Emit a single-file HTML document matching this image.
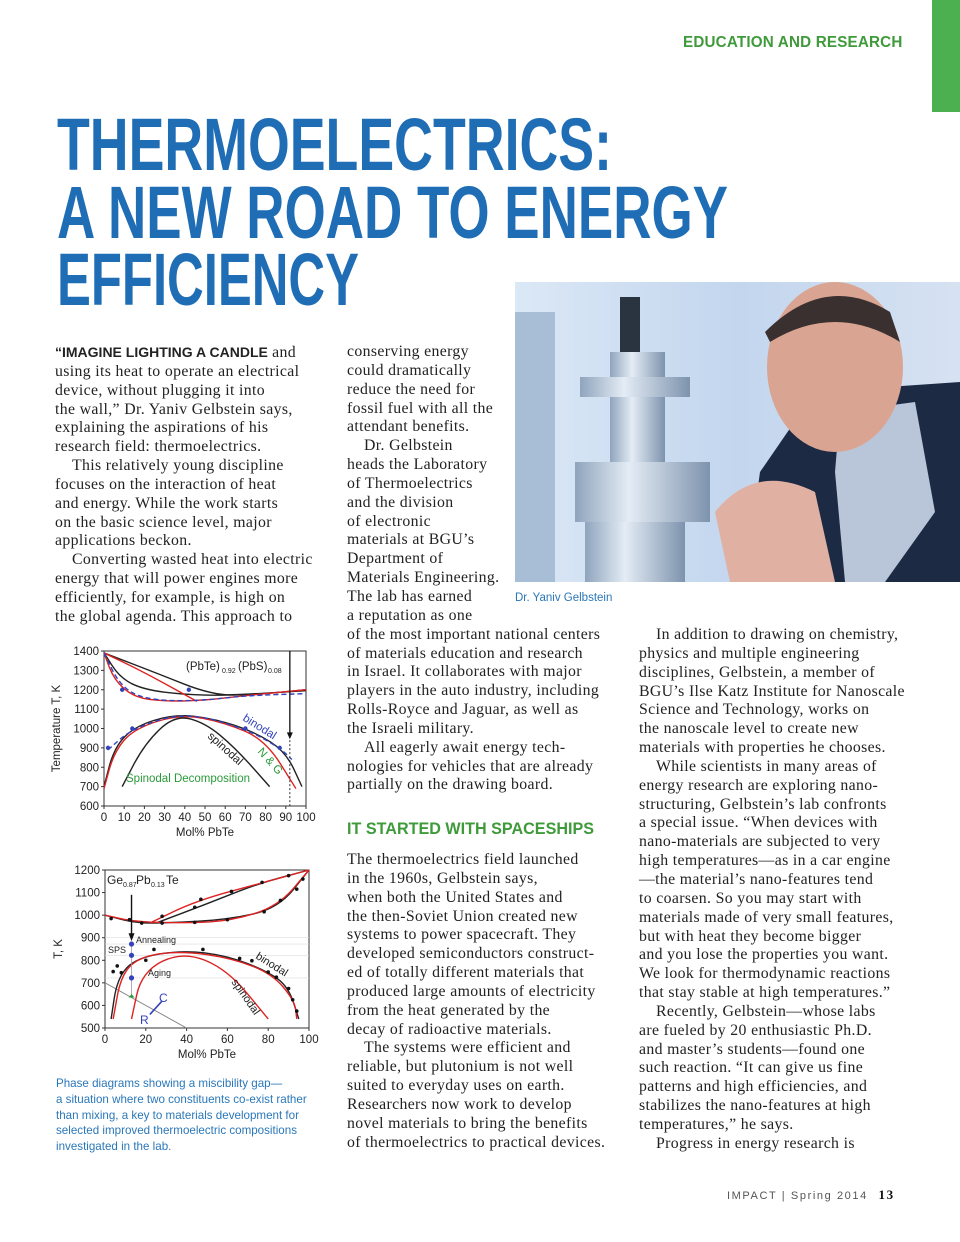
<!DOCTYPE html>
<html><head><meta charset="utf-8">
<style>
body{margin:0;background:#fff;}
#page{position:relative;width:960px;height:1242px;overflow:hidden;background:#fff;font-family:"Liberation Serif",serif;color:#222;}
.col{position:absolute;font-size:15.8px;line-height:18.85px;letter-spacing:0.35px;}
.col div{white-space:nowrap;}
.ind{padding-left:17px;}
.abs{position:absolute;}
.cap{font-family:"Liberation Sans",sans-serif;color:#2a77b8;font-size:11.6px;line-height:15.8px;}
</style></head><body>
<div id="page">
<div class="abs" style="left:932px;top:0;width:28px;height:112px;background:#4caf50;"></div>
<div class="abs" style="left:683px;top:34px;font-family:'Liberation Sans',sans-serif;font-weight:bold;color:#3f9a3a;font-size:16px;letter-spacing:0.2px;transform:scaleX(0.95);transform-origin:left;">EDUCATION AND RESEARCH</div>

<svg class="abs" style="left:0;top:0" width="960" height="320">
<g font-family="Liberation Sans, sans-serif" fill="#1f6db5" font-size="74" font-weight="bold">
<text x="57" y="170" textLength="555" lengthAdjust="spacingAndGlyphs">THERMOELECTRICS:</text>
<text x="57" y="238" textLength="671" lengthAdjust="spacingAndGlyphs">A NEW ROAD TO ENERGY</text>
<text x="57" y="305" textLength="302" lengthAdjust="spacingAndGlyphs">EFFICIENCY</text>
</g></svg>

<svg class="abs" style="left:515px;top:282px" width="445" height="300">
<defs><linearGradient id="bg" x1="0" x2="1"><stop offset="0" stop-color="#dbe8f6"/><stop offset="0.5" stop-color="#c3d6ee"/><stop offset="1" stop-color="#d6e2f2"/></linearGradient>
<linearGradient id="st" x1="0" x2="1"><stop offset="0" stop-color="#8fa4bd"/><stop offset="0.4" stop-color="#e4ecf5"/><stop offset="1" stop-color="#7d93ad"/></linearGradient></defs>
<rect width="445" height="300" fill="url(#bg)"/>
<rect x="0" y="30" width="40" height="270" fill="#a8bdd6"/>
<rect x="60" y="180" width="135" height="60" fill="url(#st)"/>
<rect x="70" y="240" width="100" height="60" fill="url(#st)"/>
<rect x="95" y="70" width="55" height="110" fill="url(#st)"/>
<rect x="65" y="95" width="110" height="20" fill="url(#st)"/>
<rect x="105" y="15" width="20" height="55" fill="#2a3340"/>
<path d="M300 110 L445 100 L445 300 L230 300 L245 190 Z" fill="#1d2a44"/>
<path d="M325 130 L400 120 L420 230 L370 300 L330 300 L320 190 Z" fill="#b9c6d9"/>
<ellipse cx="320" cy="85" rx="68" ry="85" fill="#d9a592"/>
<path d="M250 50 Q310 -10 375 30 L385 60 Q320 20 255 60 Z" fill="#3a3030"/>
<path d="M200 230 Q240 180 300 210 L320 300 L215 300 Z" fill="#e0b0a3"/>
</svg>
<div class="abs cap" style="left:515px;top:591px;font-size:11.5px;">Dr. Yaniv Gelbstein</div>

<div class="col" style="left:55px;top:343px;">
<div><b style="font-family:'Liberation Sans',sans-serif;font-size:14px;letter-spacing:0;">“IMAGINE LIGHTING A CANDLE</b> and</div>
<div>using its heat to operate an electrical</div>
<div>device, without plugging it into</div>
<div>the wall,” Dr. Yaniv Gelbstein says,</div>
<div>explaining the aspirations of his</div>
<div>research field: thermoelectrics.</div>
<div class="ind">This relatively young discipline</div>
<div>focuses on the interaction of heat</div>
<div>and energy. While the work starts</div>
<div>on the basic science level, major</div>
<div>applications beckon.</div>
<div class="ind">Converting wasted heat into electric</div>
<div>energy that will power engines more</div>
<div>efficiently, for example, is high on</div>
<div>the global agenda. This approach to</div>
</div>

<div class="col" style="left:347px;top:343px;">
<div>conserving energy</div><div>could dramatically</div><div>reduce the need for</div><div>fossil fuel with all the</div><div>attendant benefits.</div>
<div class="ind">Dr. Gelbstein</div><div>heads the Laboratory</div><div>of Thermoelectrics</div><div>and the division</div><div>of electronic</div><div>materials at BGU’s</div><div>Department of</div><div>Materials Engineering.</div><div>The lab has earned</div><div>a reputation as one</div>
<div>of the most important national centers</div><div>of materials education and research</div><div>in Israel. It collaborates with major</div><div>players in the auto industry, including</div><div>Rolls-Royce and Jaguar, as well as</div><div>the Israeli military.</div>
<div class="ind">All eagerly await energy tech-</div><div>nologies for vehicles that are already</div><div>partially on the drawing board.</div>
</div>
<div class="abs" style="left:347px;top:819px;font-family:'Liberation Sans',sans-serif;font-weight:bold;color:#3f9a3a;font-size:17px;transform:scaleX(0.95);transform-origin:left;">IT STARTED WITH SPACESHIPS</div>
<div class="col" style="left:347px;top:851px;">
<div>The thermoelectrics field launched</div><div>in the 1960s, Gelbstein says,</div><div>when both the United States and</div><div>the then-Soviet Union created new</div><div>systems to power spacecraft. They</div><div>developed semiconductors construct-</div><div>ed of totally different materials that</div><div>produced large amounts of electricity</div><div>from the heat generated by the</div><div>decay of radioactive materials.</div>
<div class="ind">The systems were efficient and</div><div>reliable, but plutonium is not well</div><div>suited to everyday uses on earth.</div><div>Researchers now work to develop</div><div>novel materials to bring the benefits</div><div>of thermoelectrics to practical devices.</div>
</div>

<div class="col" style="left:639px;top:626px;">
<div class="ind">In addition to drawing on chemistry,</div><div>physics and multiple engineering</div><div>disciplines, Gelbstein, a member of</div><div>BGU’s Ilse Katz Institute for Nanoscale</div><div>Science and Technology, works on</div><div>the nanoscale level to create new</div><div>materials with properties he chooses.</div>
<div class="ind">While scientists in many areas of</div><div>energy research are exploring nano-</div><div>structuring, Gelbstein’s lab confronts</div><div>a special issue. “When devices with</div><div>nano-materials are subjected to very</div><div>high temperatures—as in a car engine</div><div>—the material’s nano-features tend</div><div>to coarsen. So you may start with</div><div>materials made of very small features,</div><div>but with heat they become bigger</div><div>and you lose the properties you want.</div><div>We look for thermodynamic reactions</div><div>that stay stable at high temperatures.”</div>
<div class="ind">Recently, Gelbstein—whose labs</div><div>are fueled by 20 enthusiastic Ph.D.</div><div>and master’s students—found one</div><div>such reaction. “It can give us fine</div><div>patterns and high efficiencies, and</div><div>stabilizes the nano-features at high</div><div>temperatures,” he says.</div>
<div class="ind">Progress in energy research is</div>
</div>

<svg id="charts" class="abs" style="left:0;top:0" width="340" height="1070" font-family="Liberation Sans, sans-serif"></svg>

<div class="abs cap" style="left:56px;top:1076px;">
<div>Phase diagrams showing a miscibility gap—</div><div>a situation where two constituents co-exist rather</div><div>than mixing, a key to materials development for</div><div>selected improved thermoelectric compositions</div><div>investigated in the lab.</div></div>

<div class="abs" style="left:727px;top:1187px;font-family:'Liberation Sans',sans-serif;font-size:11px;letter-spacing:1.6px;color:#555;">IMPACT | Spring 2014 <b style="color:#111;font-size:13px;margin-left:6px;font-family:'Liberation Serif',serif;">13</b></div>
</div>

<script>
// Chart 1 data (Mol% PbTe, T K)
const c1xTicks=[0,10,20,30,40,50,60,70,80,90,100];
const c1yTicks=[600,700,800,900,1000,1100,1200,1300,1400];
const c1BlackUpper=[[0,1390],[25,1290],[54,1170],[75,1175],[100,1200]];
const c1BlackLower=[[0,1390],[8,1260],[20,1200],[40,1175],[60,1170],[100,1195]];
const c1RedUpper=[[0,1390],[20,1290],[46,1140]];
const c1RedLower=[[0,1390],[5,1250],[15,1160],[30,1140],[50,1145],[70,1170],[100,1200]];
const c1BlueDash=[[0,1390],[8,1220],[20,1150],[45,1140],[70,1170],[100,1180]];
const c1BlackBinodal=[[0,700],[5,900],[15,1010],[35,1075],[55,1050],[75,980],[90,880],[98,700]];
const c1RedBinodal=[[0,690],[5,880],[15,1000],[38,1075],[60,1030],[80,940],[95,690]];
const c1Spinodal=[[9,700],[20,920],[35,1070],[50,1030],[65,900],[82,700]];
const c1BlueBinodal=[[2,890],[14,1000],[40,1085],[70,1000],[87,900],[93,840]];
const c1BluePts=[[2,900],[9,1200],[14,1000],[42,1200],[70,1000],[87,900]];
// Chart 2 data
const c2xTicks=[0,20,40,60,80,100];
const c2yTicks=[500,600,700,800,900,1000,1100,1200];
const c2BlackSolidus=[[0,1000],[15,965],[30,965],[60,980],[85,1030],[100,1200]];
const c2BlackLiquidus=[[25,965],[50,1050],[75,1140],[100,1200]];
const c2RedSolidus=[[0,1000],[15,970],[40,965],[62,975],[85,1040],[100,1200]];
const c2RedLiquidus=[[22,965],[45,1065],[78,1145],[100,1200]];
const c2Binodal=[[3,540],[6,720],[15,810],[38,845],[60,820],[80,750],[90,680],[95,540]];
const c2RedBinodal=[[4,540],[8,740],[18,820],[38,840],[62,810],[82,740],[93,620],[94,540]];
const c2Spinodal=[[13,540],[18,750],[38,840],[60,760],[80,540]];
const c2Dots=[[4,750],[6,775],[8,745],[20,800],[24,848],[48,848],[66,808],[72,798],[80,748],[84,725],[90,675],[92,625],[94,575],[3,985],[12,980],[28,995],[44,1035],[47,1070],[62,1105],[77,1145],[90,1175],[97,1160],[94,1115],[86,1065],[78,1015],[60,980],[44,968],[28,965],[18,965]];
const c2BluePts=[[13,872],[13,822],[13,722]];

const svg=document.getElementById('charts');
const NS='http://www.w3.org/2000/svg';
function mk(t,a){const e=document.createElementNS(NS,t);for(const k in a)e.setAttribute(k,a[k]);svg.appendChild(e);return e;}
function axes(x0,x1,xmin,xmax,y0,y1,ymin,ymax){
  return {X:v=>x0+(v-xmin)/(xmax-xmin)*(x1-x0),Y:v=>y0-(v-ymin)/(ymax-ymin)*(y0-y1)};
}
function curve(pts,ax,color,dash,name){
  let d='';pts.forEach((p,i)=>{const x=ax.X(p[0]),y=ax.Y(p[1]);
    if(i==0)d='M'+x+' '+y;else{const q=pts[i-1];const mx=(ax.X(q[0])+x)/2,my=(ax.Y(q[1])+y)/2;d+=' Q'+ax.X(q[0])+' '+ax.Y(q[1])+' '+mx+' '+my;}});
  const l=pts[pts.length-1];d+=' L'+ax.X(l[0])+' '+ax.Y(l[1]);
  const e=mk('path',{d:d,fill:'none',stroke:color,'stroke-width':1.4});
  if(dash)e.setAttribute('stroke-dasharray',dash);
  
  
}
function frame(ax,xt,yt,xl,yl,x0,x1,y0,y1,xlabel,ylabel,ylx){
  const r=mk('rect',{x:x0,y:y1,width:x1-x0,height:y0-y1,fill:'none',stroke:'#333','stroke-width':1});
  
  xt.forEach(v=>{const x=ax.X(v);mk('line',{x1:x,x2:x,y1:y0,y2:y0+3,stroke:'#333'});
    const t=mk('text',{x:x,y:y0+15,'font-size':11.5,'text-anchor':'middle',fill:'#222'});t.textContent=v;
    });
  yt.forEach(v=>{const y=ax.Y(v);mk('line',{x1:x0-3,x2:x0,y1:y,y2:y,stroke:'#333'});
    const t=mk('text',{x:x0-5,y:y+4,'font-size':11.5,'text-anchor':'end',fill:'#222'});t.textContent=v;
    });
  const a=mk('text',{x:(x0+x1)/2,y:y0+30,'font-size':11.5,'text-anchor':'middle',fill:'#222'});a.textContent=xlabel;
  
  const b=mk('text',{x:ylx,y:(y0+y1)/2,'font-size':11.5,'text-anchor':'middle',fill:'#222',transform:'rotate(-90 '+ylx+' '+(y0+y1)/2+')'});b.textContent=ylabel;
  
}
function label(x,y,txt,color,size,rot,name){const t=mk('text',{x:x,y:y,'font-size':size,fill:color});if(rot)t.setAttribute('transform','rotate('+rot+' '+x+' '+y+')');t.textContent=txt;
  return t;}

// chart 1
const A=axes(104,306,0,100,806,651,600,1400);
frame(A,c1xTicks,c1yTicks,0,0,104,306,806,651,'Mol% PbTe','Temperature T, K',60);
curve(c1BlackUpper,A,'#222',null,'liquidus-black');
curve(c1BlackLower,A,'#222',null,'solidus-black');
curve(c1RedUpper,A,'#d22',null,'liquidus-red');
curve(c1RedLower,A,'#d22',null,'solidus-red');
curve(c1BlueDash,A,'#3344bb','5,3','solidus-blue-dashed');
curve(c1BlackBinodal,A,'#222',null,'binodal-black');
curve(c1RedBinodal,A,'#d22',null,'binodal-red');
curve(c1Spinodal,A,'#222',null,'spinodal-black');
curve(c1BlueBinodal,A,'#3344bb','5,3','binodal-blue-dashed');
c1BluePts.forEach(p=>{const c=mk('circle',{cx:A.X(p[0]),cy:A.Y(p[1]),r:2.2,fill:'#3344bb'});});
mk('line',{x1:A.X(92),x2:A.X(92),y1:A.Y(1400),y2:A.Y(960),stroke:'#111','stroke-width':1.3});
mk('path',{d:`M${A.X(92)-3} ${A.Y(980)} L${A.X(92)+3} ${A.Y(980)} L${A.X(92)} ${A.Y(945)} Z`,fill:'#111'});
mk('line',{x1:A.X(92),x2:A.X(92),y1:A.Y(940),y2:A.Y(600),stroke:'#333','stroke-dasharray':'2,2'});
label(186,670,'(PbTe)','#222',11.5,0,'composition-label');label(222,673,'0.92','#222',7,0,'subscript');label(238,670,'(PbS)','#222',11.5,0,'composition-label');label(268,673,'0.08','#222',7,0,'subscript');
label(242,720,'binodal','#3344bb',11.5,32,'binodal-label');
label(207,737,'spinodal','#222',11.5,42,'spinodal-label');
label(257,752,'N & G','#2a9a3a',11.5,48,'nucleation-growth-label');
label(126,782,'Spinodal  Decomposition','#2a9a3a',11.5,0,'spinodal-decomposition-label');

// chart 2
const B=axes(105,309,0,100,1028,870,500,1200);
frame(B,c2xTicks,c2yTicks,0,0,105,309,1028,870,'Mol% PbTe','T, K',62);
[900,872,822,722].forEach(v=>mk('line',{x1:105,x2:309,y1:B.Y(v),y2:B.Y(v),stroke:'#ddd','stroke-width':0.6}));
mk('line',{x1:B.X(0),y1:B.Y(700),x2:B.X(40),y2:B.Y(500),stroke:'#888','stroke-width':1});
curve(c2BlackSolidus,B,'#222',null,'solidus-black');
curve(c2BlackLiquidus,B,'#222',null,'liquidus-black');
curve(c2RedSolidus,B,'#d22',null,'solidus-red');
curve(c2RedLiquidus,B,'#d22',null,'liquidus-red');
curve(c2Binodal,B,'#222',null,'binodal-black');
curve(c2RedBinodal,B,'#d22',null,'binodal-red');
curve(c2Spinodal,B,'#d22',null,'spinodal-red');
c2Dots.forEach(p=>{const c=mk('circle',{cx:B.X(p[0]),cy:B.Y(p[1]),r:1.8,fill:'#111'});});
mk('line',{x1:B.X(13),x2:B.X(13),y1:B.Y(870),y2:B.Y(640),stroke:'#99a','stroke-width':0.8});
c2BluePts.forEach(p=>{const c=mk('circle',{cx:B.X(p[0]),cy:B.Y(p[1]),r:2.6,fill:'#3344bb'});});
mk('path',{d:`M${B.X(13)-3} ${B.Y(635)} L${B.X(13)+3} ${B.Y(635)} L${B.X(13)} ${B.Y(650)} Z`,fill:'#2a9a3a'});
mk('line',{x1:B.X(13),x2:B.X(13),y1:B.Y(1090),y2:B.Y(910),stroke:'#111','stroke-width':1.4});
mk('path',{d:`M${B.X(13)-3} ${B.Y(920)} L${B.X(13)+3} ${B.Y(920)} L${B.X(13)} ${B.Y(885)} Z`,fill:'#111'});
mk('line',{x1:B.X(22),y1:B.Y(560),x2:B.X(28),y2:B.Y(620),stroke:'#3344bb','stroke-width':1.6});
label(107,884,'Ge','#222',12,0,'composition-label');label(123,887,'0.87','#222',7,0,'subscript');label(136,884,'Pb','#222',12,0,'composition-label');label(151,887,'0.13','#222',7,0,'subscript');label(166,884,'Te','#222',12,0,'composition-label');
label(136,943,'Annealing','#222',9,0,'annealing-label');
label(108,953,'SPS','#222',9,0,'sps-label');
label(148,976,'Aging','#222',9,0,'aging-label');
label(255,958,'binodal','#222',11,32,'binodal-label');
label(231,982,'spinodal','#222',11,55,'spinodal-label');
label(159,1002,'C','#3344bb',12,0,'c-label');
label(140,1024,'R','#3344bb',12,0,'r-label');
</script>
</body></html>
